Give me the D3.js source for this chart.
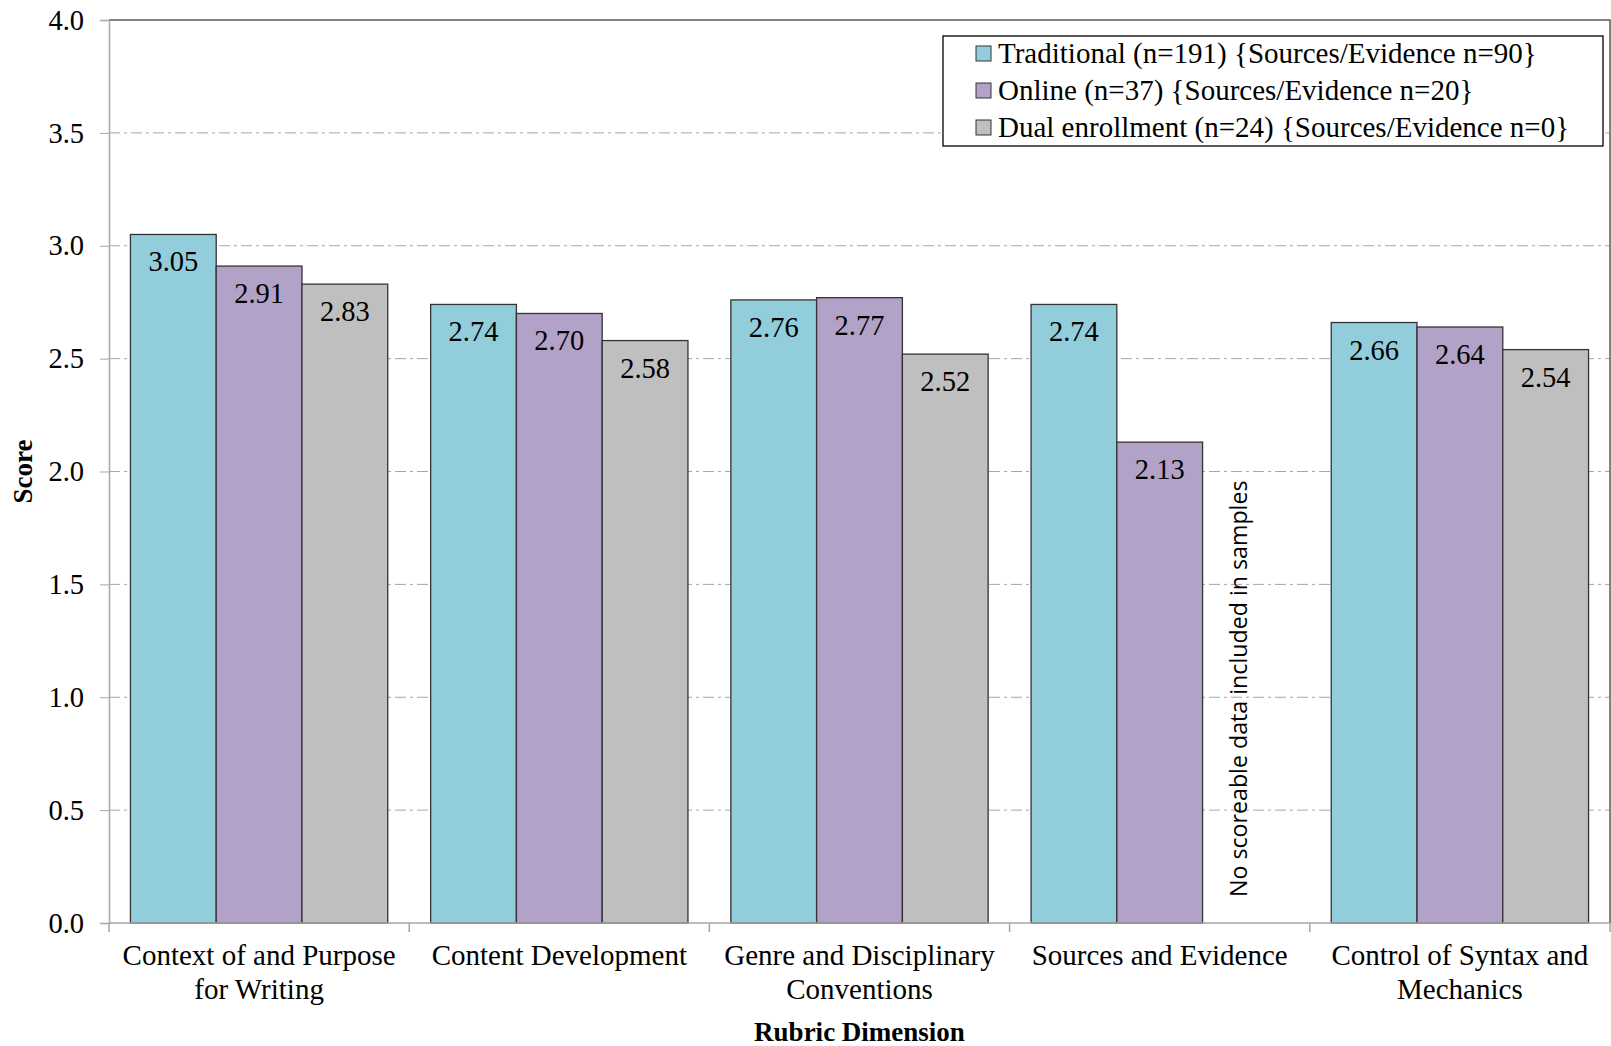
<!DOCTYPE html>
<html>
<head>
<meta charset="utf-8">
<script src="https://cdn.jsdelivr.net/npm/d3@7"></script>
<style>
  html, body { margin: 0; padding: 0; background: #fff; }
  svg { display: block; font-family: "Liberation Serif", "Times New Roman", serif; }
</style>
</head>
<body>
<svg id="chart"></svg>
<script>
// chart data
var categories = [
    ['Context of and Purpose', 'for Writing'],
    ['Content Development'],
    ['Genre and Disciplinary', 'Conventions'],
    ['Sources and Evidence'],
    ['Control of Syntax and', 'Mechanics']
];
var seriesNames = [
    'Traditional (n=191) {Sources/Evidence n=90}',
    'Online (n=37) {Sources/Evidence n=20}',
    'Dual enrollment (n=24) {Sources/Evidence n=0}'
];
var traditional = [3.05, 2.74, 2.76, 2.74, 2.66];
var online = [2.91, 2.70, 2.77, 2.13, 2.64];
var dual = [2.83, 2.58, 2.52, null, 2.54];
var colors = ['#92cddc', '#b2a2c7', '#bfbfbf'];
var yTicks = [0, 0.5, 1, 1.5, 2, 2.5, 3, 3.5, 4];
var noDataNote = 'No scoreable data included in samples';

var W = 1611, H = 1046;
var margin = { top: 20, right: 1, bottom: 123, left: 109 };
var width = W - margin.left - margin.right;
var height = H - margin.top - margin.bottom;

var svgRoot = d3.select('#chart').attr('width', W).attr('height', H);
var svg = svgRoot.append('g')
    .attr('transform', 'translate(' + margin.left + ',' + margin.top + ')');

var catKeys = categories.map(function (c) { return c.join(' '); });
var x0 = d3.scaleBand().domain(catKeys).range([0, width]).padding(0);
var x1 = d3.scaleBand().domain([0, 1, 2]).range([0, x0.bandwidth()])
    .paddingInner(0).paddingOuter(0.25);
var y = d3.scaleLinear().domain([0, 4]).range([height, 0]);

// gridlines (dash-dot)
svg.append('g').selectAll('line')
    .data(yTicks.filter(function (d) { return d > 0 && d < 4; }))
    .enter().append('line')
    .attr('x1', 0).attr('x2', width)
    .attr('y1', function (d) { return y(d); })
    .attr('y2', function (d) { return y(d); })
    .attr('stroke', '#a6a6a6')
    .attr('stroke-width', 1)
    .attr('stroke-dasharray', '11,4,3,4');

// plot border (top / right)
svg.append('path')
    .attr('d', 'M0,' + y(4) + 'H' + width + 'V' + height)
    .attr('fill', 'none')
    .attr('stroke', '#595959')
    .attr('stroke-width', 1.5);

// bars
var table = [traditional, online, dual];
var bars = [];
catKeys.forEach(function (k, i) {
    table.forEach(function (vals, s) {
        bars.push({ cat: k, s: s, v: vals[i] });
    });
});

var barG = svg.append('g');
barG.selectAll('rect')
    .data(bars.filter(function (d) { return d.v != null; }))
    .enter().append('rect')
    .attr('x', function (d) { return x0(d.cat) + x1(d.s); })
    .attr('y', function (d) { return y(d.v); })
    .attr('width', x1.bandwidth())
    .attr('height', function (d) { return y(0) - y(d.v); })
    .attr('fill', function (d) { return colors[d.s]; })
    .attr('stroke', '#333')
    .attr('stroke-width', 1.3);

barG.selectAll('text')
    .data(bars.filter(function (d) { return d.v != null; }))
    .enter().append('text')
    .attr('x', function (d) { return x0(d.cat) + x1(d.s) + x1.bandwidth() / 2; })
    .attr('y', function (d) { return y(d.v) + 37; })
    .attr('text-anchor', 'middle')
    .attr('font-size', 28.5)
    .attr('fill', '#000')
    .text(function (d) { return d.v.toFixed(2); });

// note for missing bar
bars.filter(function (d) { return d.v == null; }).forEach(function (d) {
    var cx = x0(d.cat) + x1(d.s) + x1.bandwidth() / 2 + 2;
    svg.append('text')
        .attr('transform', 'translate(' + cx + ',' + (height - 26) + ') rotate(-90)')
        .attr('font-family', '"Open Sans", "Noto Sans", sans-serif')
        .attr('font-size', 23.2)
        .attr('fill', '#000')
        .text(noDataNote);
});

// y axis
var yAxis = svg.append('g')
    .call(d3.axisLeft(y).tickValues(yTicks).tickFormat(d3.format('.1f')).tickSize(9).tickPadding(16));
yAxis.select('.domain').attr('stroke', '#a6a6a6').attr('stroke-width', 1.5);
yAxis.selectAll('.tick line').attr('stroke', '#a6a6a6');
yAxis.selectAll('.tick text')
    .attr('font-size', 28.5)
    .attr('font-family', '"Liberation Serif", serif')
    .attr('fill', '#000');

// x axis
var xAxis = svg.append('g').attr('transform', 'translate(0,' + height + ')');
xAxis.append('line')
    .attr('x1', 0).attr('x2', width)
    .attr('stroke', '#a6a6a6').attr('stroke-width', 1.5);
xAxis.selectAll('.sep')
    .data(catKeys.map(function (k) { return x0(k); }).concat([width]))
    .enter().append('line')
    .attr('class', 'sep')
    .attr('x1', function (d) { return d; }).attr('x2', function (d) { return d; })
    .attr('y1', 0).attr('y2', 9)
    .attr('stroke', '#a6a6a6').attr('stroke-width', 1.5);

var catLabels = xAxis.selectAll('.cat')
    .data(categories)
    .enter().append('text')
    .attr('class', 'cat')
    .attr('x', function (d) { return x0(d.join(' ')) + x0.bandwidth() / 2; })
    .attr('y', 42)
    .attr('text-anchor', 'middle')
    .attr('font-size', 29)
    .attr('fill', '#000');
catLabels.selectAll('tspan')
    .data(function (d) { return d.map(function (line) { return { line: line, cx: x0(d.join(' ')) + x0.bandwidth() / 2 }; }); })
    .enter().append('tspan')
    .attr('x', function (d) { return d.cx; })
    .attr('dy', function (d, i) { return i === 0 ? 0 : 34; })
    .text(function (d) { return d.line; });

// axis titles
svgRoot.append('text')
    .attr('x', margin.left + width / 2)
    .attr('y', 1041)
    .attr('text-anchor', 'middle')
    .attr('font-size', 27)
    .attr('font-weight', 'bold')
    .text('Rubric Dimension');

svgRoot.append('text')
    .attr('transform', 'translate(32,' + (margin.top + height / 2) + ') rotate(-90)')
    .attr('text-anchor', 'middle')
    .attr('font-size', 27)
    .attr('font-weight', 'bold')
    .text('Score');

// legend
var legend = svgRoot.append('g').attr('transform', 'translate(943,36)');
legend.append('rect')
    .attr('width', 660).attr('height', 110)
    .attr('fill', '#fff').attr('stroke', '#000').attr('stroke-width', 1.3);
seriesNames.forEach(function (name, i) {
    var row = legend.append('g').attr('transform', 'translate(33,' + (10 + i * 37) + ')');
    row.append('rect')
        .attr('x', 0).attr('y', 0).attr('width', 15).attr('height', 15)
        .attr('fill', colors[i]).attr('stroke', '#333').attr('stroke-width', 1);
    row.append('text')
        .attr('x', 22).attr('y', 17)
        .attr('font-size', 29)
        .attr('fill', '#000')
        .text(name);
});
</script>
</body>
</html>
